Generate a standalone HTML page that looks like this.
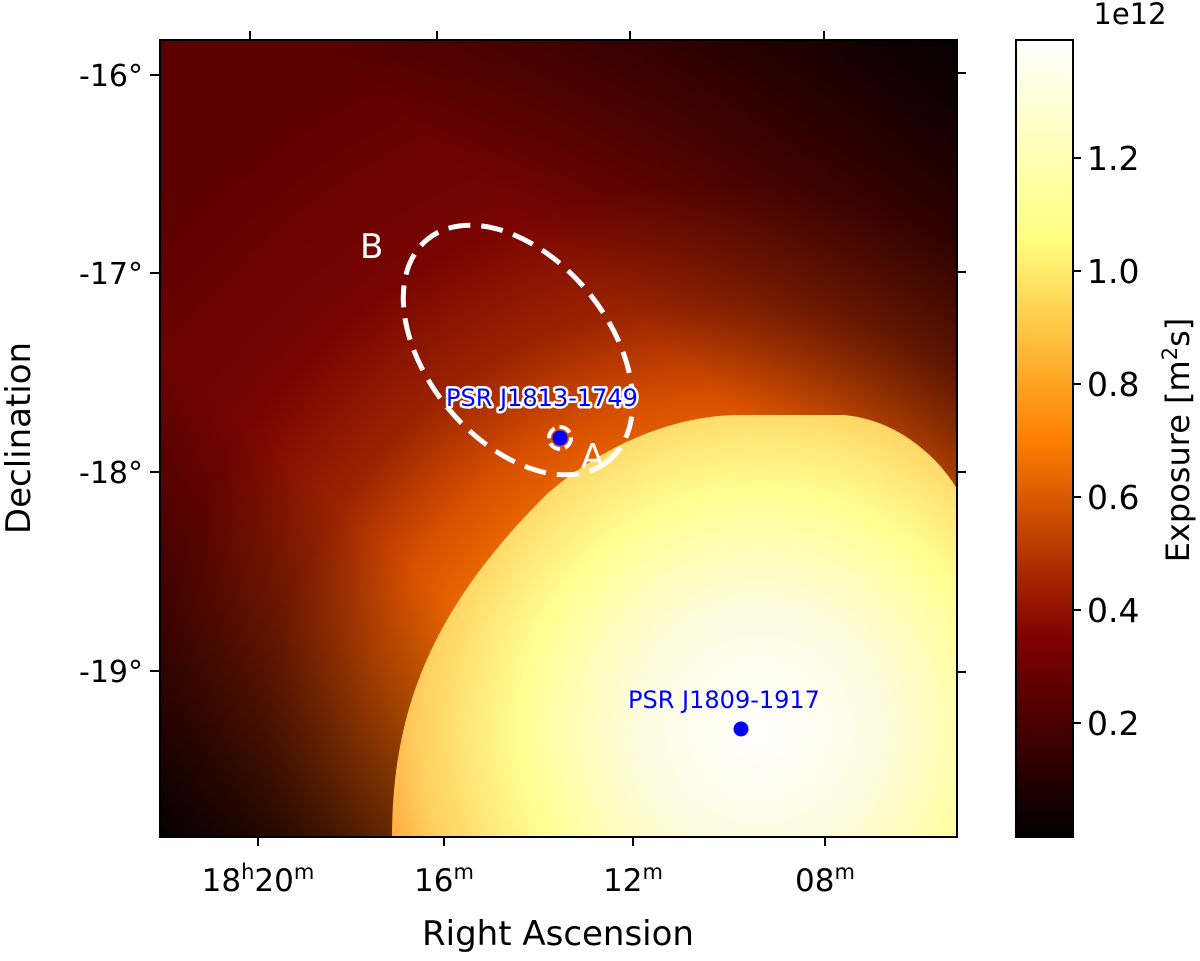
<!DOCTYPE html>
<html><head><meta charset="utf-8"><style>
body{margin:0;background:#fff;}
svg text{font-family:"DejaVu Sans","Liberation Sans",sans-serif;}
</style></head><body>
<svg width="1200" height="956" viewBox="0 0 1200 956" xmlns="http://www.w3.org/2000/svg">
<defs>
<radialGradient id="bg" cx="720" cy="760" r="800" gradientUnits="userSpaceOnUse">
<stop offset="0" stop-color="#ff9020"/>
<stop offset="0.35" stop-color="#f07000"/>
<stop offset="0.45" stop-color="#d85000"/>
<stop offset="0.57" stop-color="#9a2400"/>
<stop offset="0.72" stop-color="#780400"/>
<stop offset="1" stop-color="#5a0000"/>
</radialGradient>
<linearGradient id="tr" x1="1" y1="0" x2="0.65" y2="0.4">
<stop offset="0" stop-color="#000" stop-opacity="0.95"/>
<stop offset="1" stop-color="#000" stop-opacity="0"/>
</linearGradient>
<linearGradient id="bl" x1="0" y1="1" x2="0.3" y2="0.65">
<stop offset="0" stop-color="#000" stop-opacity="0.95"/>
<stop offset="1" stop-color="#000" stop-opacity="0"/>
</linearGradient>
<radialGradient id="bright" cx="760" cy="730" r="400" gradientUnits="userSpaceOnUse">
<stop offset="0" stop-color="#ffffff"/>
<stop offset="0.3" stop-color="#fffbe0"/>
<stop offset="0.6" stop-color="#ffff90"/>
<stop offset="0.85" stop-color="#ffd060"/>
<stop offset="1" stop-color="#ffa030"/>
</radialGradient>
<linearGradient id="cbar" x1="0" y1="1" x2="0" y2="0">
<stop offset="0" stop-color="#000000"/>
<stop offset="0.25" stop-color="#800000"/>
<stop offset="0.5" stop-color="#ff8000"/>
<stop offset="0.75" stop-color="#ffff80"/>
<stop offset="1" stop-color="#ffffff"/>
</linearGradient>
<clipPath id="clip"><rect x="160" y="40" width="797" height="797"/></clipPath>
</defs>
<g clip-path="url(#clip)">
<rect x="160" y="40" width="797" height="797" fill="url(#bg)"/>
<rect x="160" y="40" width="797" height="797" fill="url(#tr)"/>
<rect x="160" y="40" width="797" height="797" fill="url(#bl)"/>
<path d="M392,837 C392,700 440,600 548,493 C610,440 680,415 740,415 L844,415 C900,420 940,460 957,489 L957,837 Z" fill="url(#bright)"/>
</g>
<rect x="160" y="40" width="797" height="797" fill="none" stroke="#000" stroke-width="2"/>
<g id="axes"></g>
<ellipse cx="518" cy="350" rx="143" ry="91" transform="rotate(50.7 518 350)" fill="none" stroke="#fff" stroke-width="5" stroke-dasharray="22 11"/>
<circle cx="560" cy="438" r="11" fill="none" stroke="#fff" stroke-width="4" stroke-dasharray="12 5"/>
<text x="581" y="468" font-size="34" fill="#fff">A</text>
<text x="360" y="258" font-size="34" fill="#fff">B</text>
<g id="psrs"></g>
<rect x="1016" y="40" width="57" height="797" fill="url(#cbar)" stroke="#000" stroke-width="2"/>
<g id="cbticks"></g>
<text x="1130" y="24" font-size="29" text-anchor="middle">1e12</text>
<text transform="translate(1189,440) rotate(-90)" font-size="32" text-anchor="middle">Exposure [m<tspan baseline-shift="super" font-size="21">2</tspan>s]</text>
<text x="558" y="945" font-size="34" text-anchor="middle">Right Ascension</text>
<text transform="translate(30,438) rotate(-90)" font-size="34" text-anchor="middle">Declination</text>
</svg>
<script>
const xTickLabels = ["18h20m", "16m", "12m", "08m"];
const xTickBottom = [258, 444, 633, 825];
const xTickTop = [250, 437, 630, 824];
const yTickLabels = ["-16°", "-17°", "-18°", "-19°"];
const yTickLeft = [75, 273, 472, 671];
const yTickRight = [73, 272, 472, 672];
const cbValues = [0.2, 0.4, 0.6, 0.8, 1.0, 1.2];
const pulsarNames = ["PSR J1813-1749", "PSR J1809-1917"];
const pulsarX = [560, 741];
const pulsarY = [438, 729];
const NS = "http://www.w3.org/2000/svg";
function cbY(v){ return 836 - v * 565; }
function mk(tag, attrs, parent){ const e=document.createElementNS(NS,tag); for(const k in attrs) e.setAttribute(k,attrs[k]); parent.appendChild(e); return e; }
const ax = document.getElementById('axes');
xTickLabels.forEach((l,i)=>{
  const t1 = mk('line',{x1:xTickBottom[i],x2:xTickBottom[i],y1:837,y2:846,stroke:'#000','stroke-width':2},ax);
  
  
  const t2 = mk('line',{x1:xTickTop[i],x2:xTickTop[i],y1:31,y2:40,stroke:'#000','stroke-width':2},ax);
  
  
  const tx = mk('text',{x:xTickBottom[i],y:891,'font-size':31,'text-anchor':'middle'},ax);
  
  
  const m = l.match(/^(\d+)h(\d+)m$/);
  if(m){
    tx.innerHTML = m[1]+'<tspan baseline-shift="super" font-size="21">h</tspan>'+m[2]+'<tspan baseline-shift="super" font-size="21">m</tspan>';
  } else {
    tx.innerHTML = l.replace('m','')+'<tspan baseline-shift="super" font-size="21">m</tspan>';
  }
});
yTickLabels.forEach((l,i)=>{
  const t1 = mk('line',{x1:150,x2:160,y1:yTickLeft[i],y2:yTickLeft[i],stroke:'#000','stroke-width':2},ax);
  
  
  const t2 = mk('line',{x1:957,x2:966,y1:yTickRight[i],y2:yTickRight[i],stroke:'#000','stroke-width':2},ax);
  
  
  const tx = mk('text',{x:143,y:yTickLeft[i]+11,'font-size':30,'text-anchor':'end'},ax);
  
  
  tx.textContent = l;
});
const cb = document.getElementById('cbticks');
cbValues.forEach(v=>{
  const y = cbY(v);
  const t = mk('line',{x1:1073,x2:1081,y1:y,y2:y,stroke:'#000','stroke-width':2},cb);
  
  
  const tx = mk('text',{x:1087,y:y+12,'font-size':33},cb);
  
  
  tx.textContent = v.toFixed(1);
});
const ps = document.getElementById('psrs');
pulsarNames.forEach((n,i)=>{
  const c = mk('circle',{cx:pulsarX[i],cy:pulsarY[i],r:7.5,fill:'#0000ff'},ps);
  
  
  const tx = mk('text',{x:pulsarX[i]-(i===0?18:17),y:pulsarY[i]-(i===0?32:21),'font-size':24,'text-anchor':'middle',fill:'#0000ff',stroke:'#fff','stroke-width':i===0?5:2,'paint-order':'stroke','stroke-linejoin':'round'},ps);
  
  
  tx.textContent = n;
});
</script>
</body></html>
